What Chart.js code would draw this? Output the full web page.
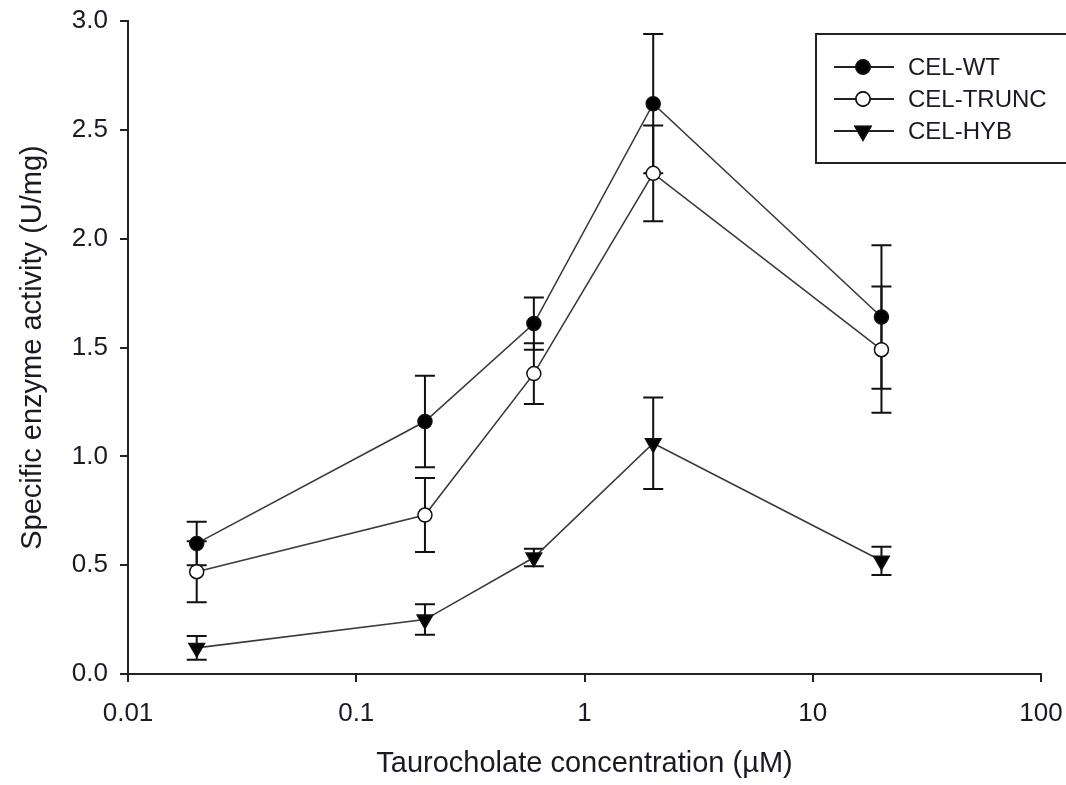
<!DOCTYPE html>
<html>
<head>
<meta charset="utf-8">
<script src="https://cdn.jsdelivr.net/npm/chart.js@4.4.1/dist/chart.umd.min.js"></script>
<style>
  html, body { margin: 0; padding: 0; background: #ffffff; }
  #wrap { width: 1066px; height: 785px; }
</style>
</head>
<body>
<div id="wrap"><canvas id="c" width="1066" height="785"></canvas></div>
<script>
// ---- data ----
const concentrations = [0.02, 0.2, 0.6, 2, 20];
const seriesNames = ['CEL-WT', 'CEL-TRUNC', 'CEL-HYB'];
const wtMean = [0.60, 1.16, 1.61, 2.62, 1.64];
const wtErr = [0.10, 0.21, 0.12, 0.32, 0.33];
const truncMean = [0.47, 0.73, 1.38, 2.30, 1.49];
const truncErr = [0.14, 0.17, 0.14, 0.22, 0.29];
const hybMean = [0.12, 0.25, 0.535, 1.06, 0.52];
const hybErr = [0.055, 0.07, 0.04, 0.21, 0.065];
const xTickValues = [0.01, 0.1, 1, 10, 100];
const xTickLabels = ['0.01', '0.1', '1', '10', '100'];
const yTickValues = [0, 0.5, 1, 1.5, 2, 2.5, 3];
const yTickLabels = ['0.0', '0.5', '1.0', '1.5', '2.0', '2.5', '3.0'];
const xTitle = 'Taurocholate concentration (\u00b5M)';
const yTitle = 'Specific enzyme activity (U/mg)';

const FONT = '"Liberation Sans", Arial, sans-serif';
const TEXT_COLOR = '#1a1a24';

function pts(xs, ys) { return xs.map((x, i) => ({ x: x, y: ys[i] })); }

const errorBarPlugin = {
  id: 'errorBars',
  beforeDatasetsDraw(chart) {
    const ctx = chart.ctx;
    const xs = chart.scales.x, ys = chart.scales.y;
    ctx.save();
    ctx.strokeStyle = '#111';
    ctx.lineWidth = 2;
    chart.data.datasets.forEach(ds => {
      ds.data.forEach((p, i) => {
        const e = ds.errors[i];
        const px = xs.getPixelForValue(p.x);
        const top = ys.getPixelForValue(p.y + e);
        const bot = ys.getPixelForValue(p.y - e);
        ctx.beginPath();
        ctx.moveTo(px, top); ctx.lineTo(px, bot);
        ctx.moveTo(px - 10, top); ctx.lineTo(px + 10, top);
        ctx.moveTo(px - 10, bot); ctx.lineTo(px + 10, bot);
        ctx.stroke();
      });
    });
    ctx.restore();
  }
};

const legendPlugin = {
  id: 'boxLegend',
  afterDraw(chart) {
    const ctx = chart.ctx;
    ctx.save();
    ctx.strokeStyle = '#222';
    ctx.lineWidth = 2;
    ctx.strokeRect(816, 34, 260, 129);
    chart.data.datasets.forEach((ds, i) => {
      const y = 67 + i * 32;
      ctx.strokeStyle = '#222';
      ctx.lineWidth = 1.8;
      ctx.beginPath();
      ctx.moveTo(834, y); ctx.lineTo(894, y);
      ctx.stroke();
      Chart.helpers.drawPoint(ctx, {
        pointStyle: ds.pointStyle,
        rotation: ds.pointRotation || 0,
        radius: ds.pointRadius,
        borderWidth: ds.pointBorderWidth
      }, 863, y);
      ctx.fillStyle = ds.pointBackgroundColor;
      ctx.strokeStyle = ds.pointBorderColor;
      ctx.lineWidth = ds.pointBorderWidth;
      ctx.fill();
      ctx.stroke();
      ctx.fillStyle = TEXT_COLOR;
      ctx.font = '24px ' + FONT;
      ctx.textBaseline = 'middle';
      ctx.textAlign = 'left';
      ctx.fillText(ds.label, 908, y + 1);
    });
    ctx.restore();
  }
};

const common = {
  borderColor: '#3a3a3a',
  borderWidth: 1.6,
  showLine: true,
  tension: 0,
  pointBorderColor: '#111',
  pointBorderWidth: 1.5,
  pointHoverRadius: 7
};

new Chart(document.getElementById('c'), {
  type: 'scatter',
  data: {
    datasets: [
      Object.assign({}, common, {
        label: seriesNames[0], data: pts(concentrations, wtMean), errors: wtErr,
        pointStyle: 'circle', pointRadius: 7, pointBackgroundColor: '#000'
      }),
      Object.assign({}, common, {
        label: seriesNames[1], data: pts(concentrations, truncMean), errors: truncErr,
        pointStyle: 'circle', pointRadius: 7, pointBackgroundColor: '#fff'
      }),
      Object.assign({}, common, {
        label: seriesNames[2], data: pts(concentrations, hybMean), errors: hybErr,
        pointStyle: 'triangle', pointRotation: 180, pointRadius: 9, pointBackgroundColor: '#000'
      })
    ]
  },
  options: {
    responsive: false,
    animation: false,
    devicePixelRatio: 1,
    layout: { padding: { left: 0, top: 21, right: 25, bottom: 0 } },
    plugins: {
      legend: { display: false },
      tooltip: { enabled: false }
    },
    scales: {
      x: {
        type: 'logarithmic',
        min: 0.01, max: 100,
        afterBuildTicks(scale) { scale.ticks = xTickValues.map(v => ({ value: v, major: true })); },
        afterFit(scale) { scale.height = 111; scale.paddingLeft = 0; scale.paddingRight = 0; },
        border: { display: true, color: '#222', width: 2 },
        grid: { display: true, drawOnChartArea: false, drawTicks: true, tickLength: 8, color: '#222', lineWidth: 2 },
        ticks: {
          autoSkip: false, maxRotation: 0, padding: 16,
          color: TEXT_COLOR, font: { family: FONT, size: 26 },
          callback(v) { const i = xTickValues.indexOf(v); return i >= 0 ? xTickLabels[i] : ''; }
        },
        title: { display: true, text: xTitle, color: TEXT_COLOR, font: { family: FONT, size: 29 }, padding: { top: 0, bottom: 4 } }
      },
      y: {
        type: 'linear',
        min: 0, max: 3,
        afterBuildTicks(scale) { scale.ticks = yTickValues.map(v => ({ value: v })); },
        afterFit(scale) { scale.width = 128; scale.paddingTop = 0; scale.paddingBottom = 0; },
        border: { display: true, color: '#222', width: 2 },
        grid: { display: true, drawOnChartArea: false, drawTicks: true, tickLength: 8, color: '#222', lineWidth: 2 },
        ticks: {
          autoSkip: false, padding: 12,
          color: TEXT_COLOR, font: { family: FONT, size: 26 },
          callback(v) { const i = yTickValues.indexOf(v); return i >= 0 ? yTickLabels[i] : ''; }
        },
        title: { display: true, text: yTitle, color: TEXT_COLOR, font: { family: FONT, size: 29 }, padding: { top: 16, bottom: 0 } }
      }
    }
  },
  plugins: [errorBarPlugin, legendPlugin]
});
</script>
</body>
</html>
